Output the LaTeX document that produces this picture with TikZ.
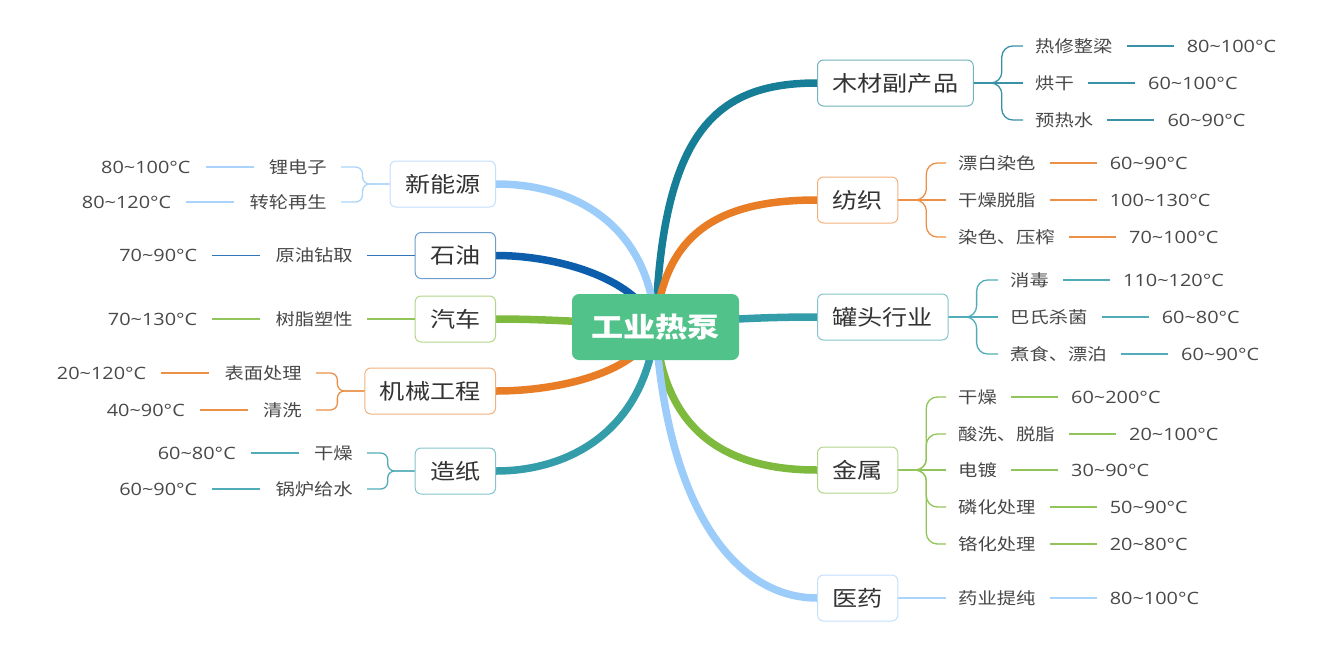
\documentclass[tikz,border=0pt]{standalone}
\usepackage{fontspec}
\setmainfont{Noto Sans CJK SC}[FakeStretch=1.17]
\newfontfamily\numfont{Open Sans}[FakeStretch=1.17]
\usetikzlibrary{positioning,calc,backgrounds}
\definecolor{cWood}{RGB}{22,126,150}
\definecolor{cOrange}{RGB}{232,125,38}
\definecolor{cTeal}{RGB}{51,157,170}
\definecolor{cGreen}{RGB}{126,186,62}
\definecolor{cLBlue}{RGB}{155,204,250}
\definecolor{cBlue}{RGB}{12,94,172}
\definecolor{cRoot}{RGB}{82,194,139}
\definecolor{txt}{RGB}{51,51,51}
\definecolor{ltxt}{RGB}{72,72,72}
\newcommand\tld{\char"7E\relax}
\tikzset{
  branchbox/.style={draw=#1!60!white, rounded corners=6pt, fill=white, line width=1pt,
    inner xsep=15pt, inner ysep=0pt, minimum height=46pt,
    font=\fontsize{21.5}{24}\selectfont, text=txt},
  leaf/.style={inner sep=0pt, font=\fontsize{16.5}{18}\selectfont, text=ltxt,
    text height=14.5pt, text depth=2pt},
  val/.style={inner sep=0pt, font=\numfont\fontsize{17}{19}\selectfont, text=ltxt,
    text height=12.2pt, text depth=0pt},
  mainln/.style={line width=7.5pt, line cap=round, draw=#1},
  thinln/.style={line width=1.3pt, draw=#1!85!white},
}
\newcommand\LeafR[5]{%
  \node[leaf, anchor=west] (#1) at #2 {#3};
  \node[val, right=74pt of #1] (#1v) {#4};
  \draw[thinln=#5, shorten <=14pt, shorten >=13pt] (#1.east) -- (#1v.west);
}
\newcommand\LeafL[5]{%
  \node[leaf, anchor=east] (#1) at #2 {#3};
  \node[val, left=78pt of #1] (#1v) {#4};
  \draw[thinln=#5, shorten <=15pt, shorten >=15pt] (#1v.east) -- (#1.west);
}
\newcommand\BrR[4]{\draw[thinln=#3, rounded corners=#4] (#1.east) -- ++(28,0) |- ($(#2.west)+(-12,0)$);}
\newcommand\BrM[3]{\draw[thinln=#3] (#1.east) -- ($(#2.west)+(-12,0)$);}
\newcommand\BrL[4]{\draw[thinln=#3, rounded corners=#4] (#1.west) -- ++(-27,0) |- ($(#2.east)+(14,0)$);}
\newcommand\BrLM[3]{\draw[thinln=#3] (#1.west) -- ($(#2.east)+(14,0)$);}
\begin{document}
\begin{tikzpicture}[x=1pt,y=-1pt]
\useasboundingbox (0,0) rectangle (1335,653);
% root
\node[fill=cRoot, rounded corners=7pt, minimum width=167pt, minimum height=66pt, inner sep=0pt,
  text=white, font=\bfseries\fontsize{27.5}{30}\selectfont] (root) at (655.5,327) {工业热泵};
% right branches
\node[branchbox=cWood, anchor=west] (m) at (817,83) {木材副产品};
\node[branchbox=cOrange, anchor=west] (f) at (817,200) {纺织};
\node[branchbox=cTeal, anchor=west] (g) at (817,317) {罐头行业};
\node[branchbox=cGreen, anchor=west] (j) at (817,470) {金属};
\node[branchbox=cLBlue, anchor=west] (y) at (817,598) {医药};
% left branches
\node[branchbox=cLBlue, anchor=east] (x) at (496,184) {新能源};
\node[branchbox=cBlue, anchor=east] (s) at (496,255.5) {石油};
\node[branchbox=cGreen, anchor=east] (q) at (496,319) {汽车};
\node[branchbox=cOrange, anchor=east] (k) at (496,391) {机械工程};
\node[branchbox=cTeal, anchor=east] (z) at (496,471) {造纸};
% main curves
\begin{scope}[on background layer]
\draw[mainln=cWood] (root.center) .. controls (662,132) and (715,83) .. (m.west);
\draw[mainln=cOrange] (root.center) .. controls (664,232) and (720,200) .. (f.west);
\draw[mainln=cTeal] (root.center) .. controls (700,320) and (760,317) .. (g.west);
\draw[mainln=cGreen] (root.center) .. controls (664,435) and (730,470) .. (j.west);
\draw[mainln=cLBlue] (root.center) .. controls (668,517) and (740,598) .. (y.west);
\draw[mainln=cLBlue] (root.center) .. controls (650,230) and (580,184) .. (x.east);
\draw[mainln=cBlue] (root.center) .. controls (640,280) and (560,255.5) .. (s.east);
\draw[mainln=cGreen] (root.center) .. controls (600,322) and (540,319) .. (q.east);
\draw[mainln=cOrange] (root.center) .. controls (640,372) and (560,391) .. (k.east);
\draw[mainln=cTeal] (root.center) .. controls (645,430) and (570,471) .. (z.east);
\end{scope}
% 木材副产品
\LeafR{m1}{(1035,46)}{热修整梁}{80\tld100°C}{cWood}
\LeafR{m2}{(1035,83)}{烘干}{60\tld100°C}{cWood}
\LeafR{m3}{(1035,120)}{预热水}{60\tld90°C}{cWood}
\BrR{m}{m1}{cWood}{11pt}\BrM{m}{m2}{cWood}\BrR{m}{m3}{cWood}{11pt}
% 纺织
\LeafR{f1}{(958,163)}{漂白染色}{60\tld90°C}{cOrange}
\LeafR{f2}{(958,200)}{干燥脱脂}{100\tld130°C}{cOrange}
\LeafR{f3}{(958,237)}{染色、压榨}{70\tld100°C}{cOrange}
\BrR{f}{f1}{cOrange}{11pt}\BrM{f}{f2}{cOrange}\BrR{f}{f3}{cOrange}{11pt}
% 罐头行业
\LeafR{g1}{(1010,280)}{消毒}{110\tld120°C}{cTeal}
\LeafR{g2}{(1010,317)}{巴氏杀菌}{60\tld80°C}{cTeal}
\LeafR{g3}{(1010,354)}{煮食、漂泊}{60\tld90°C}{cTeal}
\BrR{g}{g1}{cTeal}{11pt}\BrM{g}{g2}{cTeal}\BrR{g}{g3}{cTeal}{11pt}
% 金属
\LeafR{j1}{(958,397)}{干燥}{60\tld200°C}{cGreen}
\LeafR{j2}{(958,434)}{酸洗、脱脂}{20\tld100°C}{cGreen}
\LeafR{j3}{(958,470)}{电镀}{30\tld90°C}{cGreen}
\LeafR{j4}{(958,507)}{磷化处理}{50\tld90°C}{cGreen}
\LeafR{j5}{(958,544)}{铬化处理}{20\tld80°C}{cGreen}
\BrR{j}{j1}{cGreen}{11pt}\BrR{j}{j2}{cGreen}{11pt}\BrM{j}{j3}{cGreen}
\BrR{j}{j4}{cGreen}{11pt}\BrR{j}{j5}{cGreen}{11pt}
% 医药
\LeafR{y1}{(958,598)}{药业提纯}{80\tld100°C}{cLBlue}
\BrM{y}{y1}{cLBlue}
% 新能源
\LeafL{x1}{(327,167)}{锂电子}{80\tld100°C}{cLBlue}
\LeafL{x2}{(327,202)}{转轮再生}{80\tld120°C}{cLBlue}
\BrL{x}{x1}{cLBlue}{7pt}\BrL{x}{x2}{cLBlue}{7pt}
% 石油
\LeafL{s1}{(353,255.5)}{原油钻取}{70\tld90°C}{cBlue}
\BrLM{s}{s1}{cBlue}
% 汽车
\LeafL{q1}{(353,319)}{树脂塑性}{70\tld130°C}{cGreen}
\BrLM{q}{q1}{cGreen}
% 机械工程
\LeafL{k1}{(302,373)}{表面处理}{20\tld120°C}{cOrange}
\LeafL{k2}{(302,410)}{清洗}{40\tld90°C}{cOrange}
\BrL{k}{k1}{cOrange}{7pt}\BrL{k}{k2}{cOrange}{7pt}
% 造纸
\LeafL{z1}{(353,453)}{干燥}{60\tld80°C}{cTeal}
\LeafL{z2}{(353,489)}{锅炉给水}{60\tld90°C}{cTeal}
\BrL{z}{z1}{cTeal}{7pt}\BrL{z}{z2}{cTeal}{7pt}
\end{tikzpicture}
\end{document}
